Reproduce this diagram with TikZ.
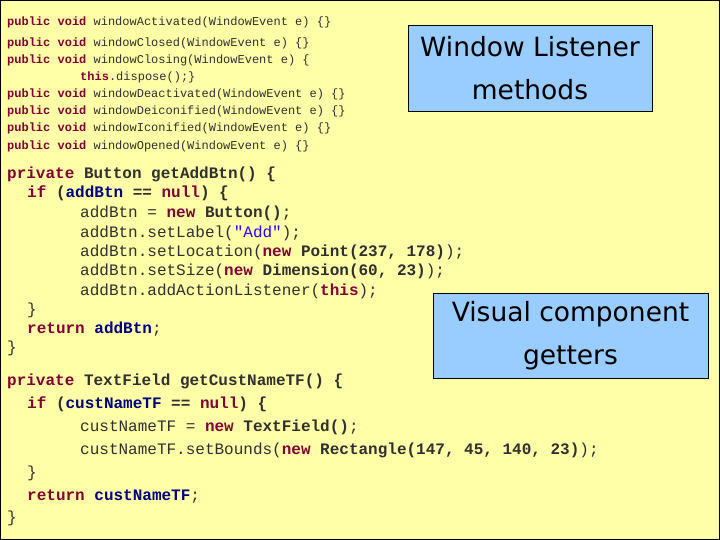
\documentclass[tikz,border=0pt]{standalone}
\usepackage{fontspec}
\setmonofont{Liberation Mono}
\newfontfamily\boxfont{DejaVu Sans}
\definecolor{bg}{HTML}{FFFFA8}
\definecolor{bluebox}{HTML}{99CCFF}
\definecolor{kwc}{HTML}{7F0037}
\definecolor{fldc}{HTML}{000080}
\definecolor{strc}{HTML}{2A00FF}
\definecolor{txtc}{HTML}{303030}
\newcommand{\kw}[1]{\textbf{\textcolor{kwc}{#1}}}
\newcommand{\fl}[1]{\textbf{\textcolor{fldc}{#1}}}
\newcommand{\ty}[1]{\textbf{#1}}
\begin{document}
\begin{tikzpicture}[x=1pt,y=-1pt,
  small/.style={anchor=base west,inner sep=0pt,font=\ttfamily\fontsize{12}{12}\selectfont,text=txtc},
  big/.style={anchor=base west,inner sep=0pt,font=\ttfamily\fontsize{16}{16}\selectfont,text=txtc},
  note/.style={draw=black,fill=bluebox,inner sep=0pt,font=\boxfont\fontsize{26.5}{43}\selectfont,align=center}]
\fill[bg] (0,0) rectangle (720,540);
\draw[black,line width=1.2pt] (0.6,0.6) rectangle (719.4,539.4);
\useasboundingbox (0,0) rectangle (720,540);
% top code
\node[small] (t1) at (7,26) {\kw{public void} windowActivated(WindowEvent e) \{\}};
\node[small] (t2) at (7,47) {\kw{public void} windowClosed(WindowEvent e) \{\}};
\node[small] (t3) at (7,64) {\kw{public void} windowClosing(WindowEvent e) \{};
\node[small] (t4) at (80,81) {\kw{this}.dispose();\}};
\node[small] (t5) at (7,98) {\kw{public void} windowDeactivated(WindowEvent e) \{\}};
\node[small] (t6) at (7,115) {\kw{public void} windowDeiconified(WindowEvent e) \{\}};
\node[small] (t7) at (7,132) {\kw{public void} windowIconified(WindowEvent e) \{\}};
\node[small] (t8) at (7,150) {\kw{public void} windowOpened(WindowEvent e) \{\}};
% bottom code
\node[big] (b1) at (7,179) {\kw{private} \ty{Button getAddBtn() \{}};
\node[big] (b2) at (27,198) {\kw{if} \ty{(}\fl{addBtn} \ty{==} \kw{null}\ty{) \{}};
\node[big] (b3) at (80,218) {addBtn = \kw{new} \ty{Button()};};
\node[big] (b4) at (80,237) {addBtn.setLabel(\textcolor{strc}{"Add"});};
\node[big] (b5) at (80,256) {addBtn.setLocation(\kw{new} \ty{Point(237, 178)});};
\node[big] (b6) at (80,275) {addBtn.setSize(\kw{new} \ty{Dimension(60, 23)});};
\node[big] (b7) at (80,295) {addBtn.addActionListener(\kw{this});};
\node[big] (b8) at (27,314) {\}};
\node[big] (b9) at (27,333) {\kw{return} \fl{addBtn};};
\node[big] (b10) at (7,352) {\}};
\node[big] (c1) at (7,385) {\kw{private} \ty{TextField getCustNameTF() \{}};
\node[big] (c2) at (27,408) {\kw{if} \ty{(}\fl{custNameTF} \ty{==} \kw{null}\ty{) \{}};
\node[big] (c3) at (80,431) {custNameTF = \kw{new} \ty{TextField()};};
\node[big] (c4) at (80,454) {custNameTF.setBounds(\kw{new} \ty{Rectangle(147, 45, 140, 23)});};
\node[big] (c5) at (27,477) {\}};
\node[big] (c6) at (27,500) {\kw{return} \fl{custNameTF};};
\node[big] (c7) at (7,522) {\}};
% notes
\node[note,minimum width=244pt,minimum height=86pt] (n1) at (530,68) {Window Listener\\methods};
\node[note,minimum width=275pt,minimum height=85pt] (n2) at (570.5,335.5) {Visual component\\getters};
\end{tikzpicture}
\end{document}
